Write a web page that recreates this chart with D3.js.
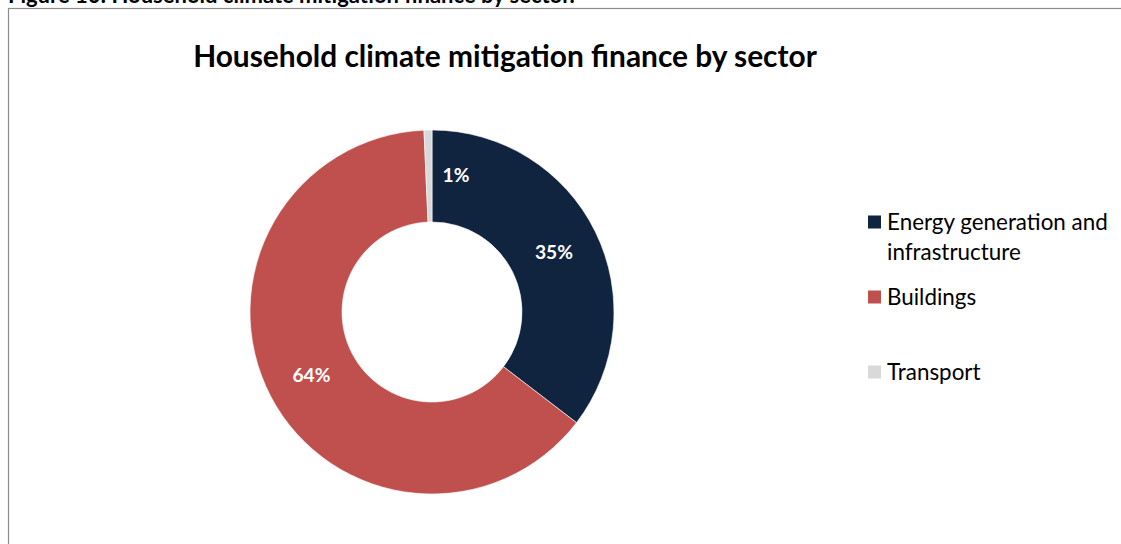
<!DOCTYPE html>
<html>
<head>
<meta charset="utf-8">
<script src="https://cdn.jsdelivr.net/npm/d3@7"></script>
<style>
  html, body { margin: 0; padding: 0; background: #fff; }
  svg { display: block; }
  text { font-family: Lato, "Open Sans", sans-serif; }
</style>
</head>
<body>
<svg id="chart" width="1121" height="544"></svg>
<script>
// Household mitigation finance shares by sector (%)
const sectors = ["Energy generation and infrastructure", "Buildings", "Transport"];
const shares = [35.4, 63.9, 0.7];
const legendLines = [["Energy generation and", "infrastructure"], ["Buildings"], ["Transport"]];
const colors = ["#10243F", "#C0504D", "#D9D9D9"];

const svg = d3.select("#chart");

// scale a text's font size so that it spans the given width
function fitWidth(sel, baseSize, width) {
  const w = sel.node().getComputedTextLength();
  const size = baseSize * width / w;
  sel.attr("font-size", size);
  return size;
}

// figure caption, partly cut off above the frame
const caption = svg.append("text")
  .attr("x", 8).attr("y", 2.5)
  .attr("font-size", 20).attr("font-weight", 700)
  .attr("fill", "#000")
  .text("Figure 10: Household climate mitigation finance by sector.");
fitWidth(caption, 20, 567);

// chart frame
svg.append("rect")
  .attr("x", 8.5).attr("y", 8.5)
  .attr("width", 1130).attr("height", 560)
  .attr("fill", "#fff")
  .attr("stroke", "#8c8c8c").attr("stroke-width", 1.2);

// title
const title = svg.append("text")
  .attr("x", 505).attr("y", 67)
  .attr("text-anchor", "middle")
  .attr("font-weight", 700)
  .attr("font-size", 26)
  .attr("fill", "#000")
  .text("Household climate mitigation finance by sector");
fitWidth(title, 26, 624);

const cx = 432, cy = 312, rOuter = 182, rInner = 90;

const pie = d3.pie().sort(null).value(d => d)(shares);
const arc = d3.arc().innerRadius(rInner).outerRadius(rOuter);
const labelArc = d3.arc().innerRadius((rInner + rOuter) / 2).outerRadius((rInner + rOuter) / 2);

const g = svg.append("g").attr("transform", `translate(${cx},${cy})`);

g.selectAll("path.slice")
  .data(pie)
  .join("path")
  .attr("class", "slice")
  .attr("d", arc)
  .attr("fill", (d, i) => colors[i])
  .attr("stroke", "#fff")
  .attr("stroke-width", 0.6);

// value labels; the thin transport slice has its label nudged inside the energy slice
const vals = g.selectAll("text.val")
  .data(pie)
  .join("text")
  .attr("class", "val")
  .attr("transform", (d, i) => {
    const [x, y] = labelArc.centroid(d);
    return i === 2 ? `translate(${x + 27},${y - 1})` : `translate(${x},${y})`;
  })
  .attr("text-anchor", "middle")
  .attr("dy", "0.35em")
  .attr("font-size", 16)
  .attr("font-weight", 700)
  .attr("fill", "#fff")
  .text(d => Math.round(d.data) + "%");
const valSize = fitWidth(vals.filter((d, i) => i === 0), 16, 38);
vals.attr("font-size", valSize);

// legend
const legendY = [222, 297, 372];
const lg = svg.append("g");
const legendTexts = [];
sectors.forEach((s, i) => {
  const row = lg.append("g").attr("transform", `translate(868,${legendY[i]})`);
  row.append("rect")
    .attr("x", 0).attr("y", -6.5)
    .attr("width", 13).attr("height", 13)
    .attr("fill", colors[i]);
  legendLines[i].forEach((line, j) => {
    const t = row.append("text")
      .attr("x", 19).attr("y", j * 30)
      .attr("dy", "0.35em")
      .attr("font-size", 20)
      .attr("fill", "#000")
      .text(line);
    legendTexts.push(t);
  });
});
const legSize = fitWidth(legendTexts[0], 20, 221);
legendTexts.forEach(t => t.attr("font-size", legSize));
</script>
</body>
</html>
